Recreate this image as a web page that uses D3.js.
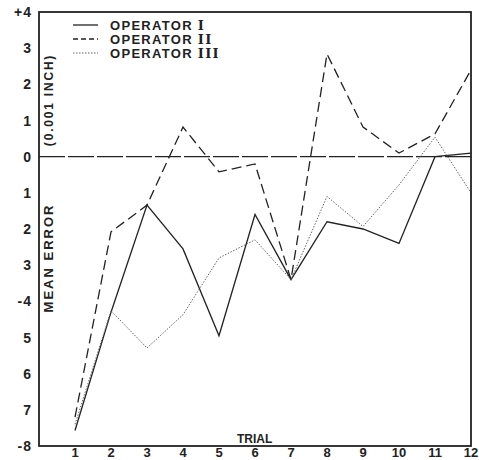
<!DOCTYPE html>
<html>
<head>
<meta charset="utf-8">
<script src="https://cdn.jsdelivr.net/npm/d3@7"></script>
<style>
  body { margin: 0; background: #fff; }
  svg { display: block; }
</style>
</head>
<body>
<svg id="chart"></svg>
<script>
// mean error per trial (0.001 inch)
const trials = [1, 2, 3, 4, 5, 6, 7, 8, 9, 10, 11, 12]
const operator1 = [-7.57, -4.3, -1.34, -2.55, -4.95, -1.6, -3.4, -1.8, -2.0, -2.4, 0.0, 0.1]
const operator2 = [-7.2, -2.08, -1.34, 0.82, -0.42, -0.2, -3.4, 2.84, 0.82, 0.1, 0.63, 2.4]
const operator3 = [-7.4, -4.26, -5.29, -4.37, -2.8, -2.3, -3.4, -1.1, -1.93, -0.78, 0.54, -1.0]
const yTicks = [4, 3, 2, 1, 0, -1, -2, -3, -4, -5, -6, -7, -8]
const yTickLabels = ["+4", "3", "2", "1", "0", "1", "2", "3", "-4", "5", "6", "7", "-8"]
const legendNames = ["OPERATOR ", "OPERATOR ", "OPERATOR "]
const legendNumerals = ["I", "II", "III"]

const width = 479
const height = 460
const margin = { top: 12, right: 8, bottom: 14, left: 39 }

const ink = "#222"
const font = "'Liberation Sans', Arial, sans-serif"

const svg = d3.select("#chart")
    .attr("width", width)
    .attr("height", height)

const xScale = d3.scaleLinear()
    .domain([0, 12])
    .range([margin.left, width - margin.right])

const yScale = d3.scaleLinear()
    .domain([-8, 4])
    .range([height - margin.bottom, margin.top])

// zero reference line, long dashes
svg.append("line")
    .attr("x1", xScale(0))
    .attr("x2", xScale(12))
    .attr("y1", yScale(0))
    .attr("y2", yScale(0))
    .attr("stroke", ink)
    .attr("stroke-width", 1.1)
    .attr("stroke-dasharray", "26,3")

const series = [
    { values: operator1, dash: null, width: 1.3, color: ink },
    { values: operator2, dash: "10,5", width: 1.3, color: ink },
    { values: operator3, dash: "1.5,1.5", width: 1, color: "#666" }
]

const line = d3.line()
    .x((d, i) => xScale(trials[i]))
    .y(d => yScale(d))

series.forEach(s => {
    svg.append("path")
        .datum(s.values)
        .attr("d", line)
        .attr("fill", "none")
        .attr("stroke", s.color)
        .attr("stroke-width", s.width)
        .attr("stroke-dasharray", s.dash)
        .attr("stroke-linejoin", "miter")
})

// frame around the plot
svg.append("rect")
    .attr("x", xScale(0))
    .attr("y", yScale(4))
    .attr("width", xScale(12) - xScale(0))
    .attr("height", yScale(-8) - yScale(4))
    .attr("fill", "none")
    .attr("stroke", ink)
    .attr("stroke-width", 1.8)

// y tick labels
svg.append("g")
    .selectAll("text")
    .data(yTicks)
    .enter()
    .append("text")
        .attr("x", 32)
        .attr("y", d => yScale(d))
        .attr("dy", "0.36em")
        .attr("text-anchor", "end")
        .attr("font-family", font)
        .attr("font-weight", "bold")
        .attr("font-size", 14)
        .attr("letter-spacing", 1)
        .attr("fill", ink)
        .text((d, i) => yTickLabels[i])

// x tick labels
svg.append("g")
    .selectAll("text")
    .data(trials)
    .enter()
    .append("text")
        .attr("x", d => xScale(d))
        .attr("y", 457)
        .attr("text-anchor", "middle")
        .attr("font-family", font)
        .attr("font-weight", "bold")
        .attr("font-size", 13)
        .attr("fill", ink)
        .text(d => d)

svg.append("text")
    .attr("x", 237)
    .attr("y", 443)
    .attr("font-family", font)
    .attr("font-weight", "bold")
    .attr("font-size", 12)
    .attr("fill", ink)
    .text("TRIAL")

// rotated axis titles
svg.append("text")
    .attr("transform", "translate(53,100) rotate(-90)")
    .attr("text-anchor", "middle")
    .attr("font-family", font)
    .attr("font-weight", "bold")
    .attr("font-size", 12)
    .attr("letter-spacing", 1.8)
    .attr("fill", ink)
    .text("(0.001 INCH)")

svg.append("text")
    .attr("transform", "translate(53,258) rotate(-90)")
    .attr("text-anchor", "middle")
    .attr("font-family", font)
    .attr("font-weight", "bold")
    .attr("font-size", 13)
    .attr("letter-spacing", 2)
    .attr("fill", ink)
    .text("MEAN ERROR")

// legend
const legend = svg.append("g")
legendNames.forEach((name, i) => {
    const y = 25 + i * 14
    legend.append("line")
        .attr("x1", 73)
        .attr("x2", 98)
        .attr("y1", y)
        .attr("y2", y)
        .attr("stroke", series[i].color)
        .attr("stroke-width", series[i].width)
        .attr("stroke-dasharray", i == 1 ? "5,3" : series[i].dash)
    const t = legend.append("text")
        .attr("x", 110)
        .attr("y", y + 5)
        .attr("font-family", font)
        .attr("font-weight", "bold")
        .attr("font-size", 13)
        .attr("letter-spacing", 1.3)
        .attr("fill", ink)
    t.append("tspan").text(name)
    t.append("tspan")
        .attr("font-family", "'DejaVu Serif', serif")
        .text(legendNumerals[i])
})
</script>
</body>
</html>
